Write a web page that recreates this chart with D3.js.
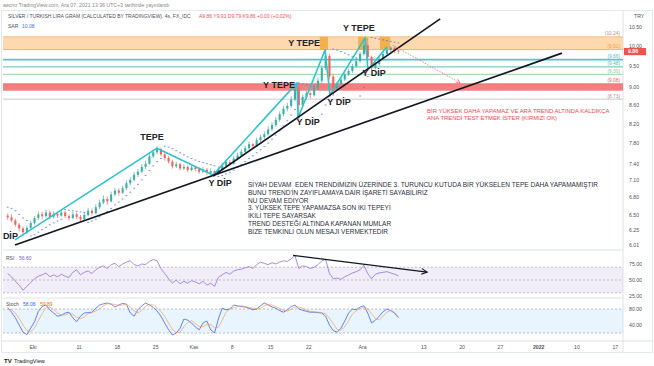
<!DOCTYPE html>
<html><head><meta charset="utf-8">
<script src="https://cdn.jsdelivr.net/npm/d3@7"></script>
<style>
body{margin:0;background:#fff}
svg{display:block;font-family:"Liberation Sans",Arial,sans-serif}
</style>
</head><body>
<svg id="chart" width="654" height="366"></svg>
<script>
// ---------- DATA (12h candles, day index 0 = 1 Oct 2021, trading days only) ----------
const firstBarDay = -3.5, barStep = 0.5;
const opens = [6.48,6.45,6.40,6.33,6.27,6.21,6.28,6.36,6.44,6.50,
 6.47,6.53,6.46,6.51,6.48,6.53,6.47,6.44,6.50,6.46,
 6.42,6.49,6.56,6.52,6.62,6.70,6.76,6.72,6.84,6.91,
 6.87,6.95,7.04,7.10,7.19,7.25,7.34,7.40,7.54,7.62,
 7.68,7.58,7.51,7.44,7.35,7.39,7.31,7.34,7.28,7.33,
 7.30,7.25,7.29,7.23,7.26,7.21,7.30,7.36,7.43,7.40,
 7.50,7.56,7.63,7.70,7.78,7.74,7.86,7.92,7.98,8.08,
 8.17,8.28,8.40,8.52,8.58,8.72,8.95,8.60,8.78,8.86,
 8.82,8.98,9.15,9.45,9.75,9.25,8.98,9.08,9.18,9.30,
 9.38,9.50,9.62,9.80,10.02,9.72,9.45,9.55,9.68,9.80,
 9.90,9.96,9.88];
const highs = [6.52,6.50,6.43,6.36,6.30,6.32,6.40,6.47,6.55,6.54,
 6.58,6.56,6.55,6.54,6.58,6.56,6.50,6.54,6.53,6.49,
 6.53,6.61,6.60,6.67,6.75,6.82,6.80,6.89,6.96,6.95,
 7.00,7.09,7.15,7.24,7.30,7.39,7.46,7.60,7.68,7.74,
 7.71,7.62,7.55,7.48,7.44,7.42,7.39,7.37,7.38,7.36,
 7.33,7.34,7.32,7.31,7.28,7.35,7.41,7.48,7.47,7.55,
 7.61,7.68,7.75,7.83,7.81,7.91,7.97,8.04,8.14,8.23,
 8.34,8.46,8.58,8.65,8.80,9.02,9.10,8.84,8.92,8.90,
 9.04,9.22,9.52,9.92,9.80,9.30,9.14,9.24,9.36,9.44,
 9.56,9.68,9.86,10.10,10.22,9.76,9.60,9.73,9.85,9.95,
 10.00,9.99,9.91];
const lows = [6.41,6.37,6.30,6.22,6.15,6.18,6.25,6.33,6.41,6.42,
 6.45,6.42,6.43,6.44,6.46,6.44,6.40,6.42,6.42,6.37,
 6.40,6.47,6.48,6.50,6.59,6.67,6.66,6.70,6.81,6.82,
 6.85,6.92,7.00,7.07,7.15,7.22,7.30,7.38,7.50,7.58,
 7.54,7.46,7.40,7.31,7.32,7.27,7.28,7.24,7.26,7.26,
 7.21,7.22,7.19,7.20,7.16,7.19,7.27,7.33,7.36,7.38,
 7.47,7.53,7.60,7.67,7.69,7.72,7.82,7.88,7.95,8.04,
 8.13,8.24,8.36,8.46,8.54,8.68,8.28,8.55,8.72,8.74,
 8.79,8.94,9.10,9.40,9.18,8.80,8.92,9.03,9.14,9.26,
 9.34,9.46,9.58,9.76,9.65,9.40,9.42,9.51,9.64,9.76,
 9.85,9.82,9.79];
const closes = [6.45,6.40,6.33,6.27,6.21,6.28,6.36,6.44,6.50,6.47,
 6.53,6.46,6.51,6.48,6.53,6.47,6.44,6.50,6.46,6.42,
 6.49,6.56,6.52,6.62,6.70,6.76,6.72,6.84,6.91,6.87,
 6.95,7.04,7.10,7.19,7.25,7.34,7.40,7.54,7.62,7.68,
 7.58,7.51,7.44,7.35,7.39,7.31,7.34,7.28,7.33,7.30,
 7.25,7.29,7.23,7.26,7.21,7.30,7.36,7.43,7.40,7.50,
 7.56,7.63,7.70,7.78,7.74,7.86,7.92,7.98,8.08,8.17,
 8.28,8.40,8.52,8.58,8.72,8.95,8.60,8.78,8.86,8.82,
 8.98,9.15,9.45,9.75,9.25,8.98,9.08,9.18,9.30,9.38,
 9.50,9.62,9.80,10.02,9.72,9.45,9.55,9.68,9.80,9.90,
 9.96,9.88,9.86];
const sar = [6.62,6.60,6.56,6.50,6.44,6.40,6.15,6.17,6.21,6.25,
 6.29,6.33,6.36,6.39,6.42,6.58,6.57,6.56,6.55,6.54,
 6.53,6.37,6.39,6.42,6.46,6.51,6.55,6.60,6.66,6.71,
 6.76,6.82,6.88,6.95,7.02,7.10,7.18,7.27,7.36,7.44,
 7.50,7.74,7.72,7.69,7.65,7.61,7.57,7.53,7.50,7.47,
 7.44,7.42,7.40,7.38,7.36,7.16,7.18,7.21,7.24,7.28,
 7.33,7.38,7.44,7.50,7.55,7.61,7.67,7.73,7.80,7.88,
 7.96,8.05,8.15,8.26,8.38,8.50,9.10,9.08,9.06,9.04,
 9.02,8.28,8.40,8.60,8.80,9.92,9.90,9.86,9.82,9.78,
 9.74,9.70,8.80,9.00,9.25,10.22,10.20,10.18,10.16,10.14,
 10.12,10.10,10.08];
const rsi = [60,55,48,42,34,40,46,52,56,58,
 61,55,58,55,59,56,54,62,66,58,
 62,64,60,66,70,72,68,74,76,71,
 75,78,80,74,72,75,74,79,82,80,
 68,60,52,45,50,44,48,45,49,47,
 44,48,42,45,40,54,58,62,59,64,
 66,67,69,71,68,74,78,76,74,77,
 75,78,80,79,83,88,68,72,71,68,
 70,74,80,82,60,52,53,51,55,58,
 61,63,66,73,60,52,59,61,62,63,
 61,59,56.6];
const stochK = [84,72,58,40,22,16,32,48,74,86,
 90,78,70,62,64,70,72,58,48,62,
 70,71,72,82,90,93,95,92,85,90,
 94,92,70,62,78,88,95,90,84,75,
 62,45,28,15,20,32,55,52,45,35,
 28,45,50,28,20,55,82,78,80,90,
 88,86,85,82,78,80,88,95,90,85,
 82,76,72,78,86,90,80,77,74,72,
 72,71,70,62,40,26,22,32,50,70,
 80,78,85,88,70,45,52,62,73,80,
 76,70,58.06];
const stochD = [80,78,70,56,40,26,23,32,51,69,
 83,85,79,70,65,65,69,67,59,56,
 60,68,71,75,81,88,93,93,91,89,
 90,92,85,75,70,76,87,91,90,83,
 74,61,45,29,21,22,36,46,51,44,
 36,36,41,41,33,34,52,72,80,83,
 86,88,86,84,82,80,82,88,91,90,
 86,81,77,75,79,85,85,82,77,74,
 73,72,71,68,57,43,29,27,35,51,
 67,76,81,84,81,68,56,53,62,72,
 76,72,59.89];

const priceTicks = [10.5,10,9.5,9,8.6,8.2,7.8,7.4,7.1,6.8,6.5,6.25,6.01];
const xTickDays  = [0,6,11,16,21,26,31,36,43,51,56,61,66,71,76];
const xTickLabels= ["Eki","11","18","25","Kas","8","15","22","Ara","13","20","27","2022","10","17"];
const levelValues = [10.24,9.91,9.66,9.48,9.30,9.08,8.73];
const levelLabels = ["(10.24)","(9.91)","(9.66)","(9.48)","(9.30)","(9.08)","(8.73)"];
const orangeBand = [10.24,9.91];
const redBand = [9.08,8.92];
const orangeBoxes = [[37.5,38.55],[42.5,43.65],[45.35,46.66]];
const tealZigzag = [[-2.3,6.09],[16.24,7.70],[23.55,7.19],[34.52,9.10],[34.65,8.32],[38.17,9.90],[38.82,8.82],[43.4,10.21],[43.78,9.41],[46.26,9.98]];
const mainTrend = [[-2.3,6.01],[69.1,9.82]];
const steepTrend = [[23.55,7.17],[53.2,10.72]];
const redArrow = [[47.05,10.02],[55.8,9.10]];
const rsiTrend = [[34.0,88.5],[51.5,62.3]];
const pointLabels = [
 ["DİP",-2.9,6.10],["TEPE",15.59,7.86],["Y DİP",24.49,6.99],["Y TEPE",32.17,8.98],
 ["Y DİP",35.96,8.17],["Y TEPE",35.44,10.0],["Y DİP",40.0,8.60],["Y TEPE",42.6,10.39],["Y DİP",44.57,9.26]];
const noteLines = [
 "SİYAH DEVAM  EDEN TRENDİMİZİN ÜZERİNDE 3. TURUNCU KUTUDA BİR YÜKSELEN TEPE DAHA YAPAMAMIŞTIR",
 "BUNU TREND'İN ZAYIFLAMAYA DAİR İŞARETİ SAYABİLİRİZ",
 "NU DEVAM EDİYOR",
 "3. YÜKSEK TEPE YAPAMAZSA SON İKİ TEPEYİ",
 "İKİLİ TEPE SAYARSAK",
 "TREND DESTEĞİ ALTINDA KAPANAN MUMLAR",
 "BİZE TEMKİNLİ OLUN MESAJI VERMEKTEDİR"];
const noteAnchor = [28.12,6.97];
const redNoteLines = ["BİR YÜKSEK DAHA YAPAMAZ VE ARA TREND ALTINDA KALDIKÇA","ANA TRENDİ TEST ETMEK İSTER (KIRMIZI OK)"];
const redNoteAnchor = [51.5,8.436];
const lastPrice = 9.86;

// ---------- SCALES ----------
const svg = d3.select("#chart");
const x = d3.scaleLinear().domain([0,76]).range([32.6,614.8]);
const y = d3.scaleLog().domain([6.01,10.5]).range([245,27]);
const yR = d3.scaleLinear().domain([25,75]).range([296,264]);
const yS = d3.scaleLinear().domain([20,80]).range([333,309]);
const bars = closes.map((c,i)=>({d:firstBarDay+barStep*i+barStep/2,o:opens[i],h:highs[i],l:lows[i],c:c,s:sar[i],r:rsi[i],k:stochK[i],dd:stochD[i]}));
const L=3, R=623;

const defs = svg.append("defs");
function clip(id,x0,y0,w,h){defs.append("clipPath").attr("id",id).append("rect").attr("x",x0).attr("y",y0).attr("width",w).attr("height",h);}
clip("cp",L,11,R-L,239); clip("cr",L,250,R-L,48); clip("cs",L,298,R-L,43);
function marker(id,color,size){
  defs.append("marker").attr("id",id).attr("viewBox","0 0 10 10").attr("refX",9).attr("refY",5)
   .attr("markerWidth",size).attr("markerHeight",size).attr("markerUnits","userSpaceOnUse").attr("orient","auto")
   .append("path").attr("d","M1,1 L9,5 L1,9").attr("fill","none").attr("stroke",color).attr("stroke-width",1.6);
}
marker("arrBlack","#131722",7); marker("arrRed","#ef6f7f",5);

// ---------- FRAME ----------
svg.append("text").attr("x",3).attr("y",7).attr("font-size",5.2).attr("fill","#8a8a8a")
  .text("aecmr TradingView.com, Ara 07, 2021 13:36 UTC+3 tarihinde yayınlandı");
svg.append("rect").attr("x",1.5).attr("y",10.5).attr("width",651).attr("height",342).attr("fill","none").attr("stroke","#e0e3eb").attr("stroke-width",0.8);
[[L,250,R,250],[L,298,R,298],[1.5,341,652.5,341],[R,10.5,R,352.5]].forEach(s=>
  svg.append("line").attr("x1",s[0]).attr("y1",s[1]).attr("x2",s[2]).attr("y2",s[3]).attr("stroke","#d8dbe2").attr("stroke-width",0.8));

// ---------- PRICE PANE ----------
const pg = svg.append("g").attr("clip-path","url(#cp)");
pg.append("rect").attr("x",L).attr("width",R-L).attr("y",y(orangeBand[0])).attr("height",y(orangeBand[1])-y(orangeBand[0])).attr("fill","#fdd9ad");
pg.append("rect").attr("x",L).attr("width",R-L).attr("y",y(redBand[0])).attr("height",y(redBand[1])-y(redBand[0])).attr("fill","#f28080");
const levelColors = ["#f3b36b","#f3a64f","#56c5c8","#7fcbbf","#a9dcae","#ef6b6b","#c9c9c9"];
const levelWidths = [0.8,0.8,1.6,1.2,1.1,0.8,1];
levelValues.forEach((v,i)=>{
  pg.append("line").attr("x1",L).attr("x2",R).attr("y1",y(v)).attr("y2",y(v)).attr("stroke",levelColors[i]).attr("stroke-width",levelWidths[i]);
});
orangeBoxes.forEach(b=>{
  pg.append("rect").attr("x",x(b[0])).attr("width",x(b[1])-x(b[0])).attr("y",y(orangeBand[0])).attr("height",y(orangeBand[1])-y(orangeBand[0])).attr("fill","#f6a843").attr("opacity",0.9);
});
const labelColors = ["#b0936e","#f0a04a","#3fbfc2","#55b89f","#86c98c","#ef5a5a","#9a9a9a"];
levelValues.forEach((v,i)=>{
  pg.append("text").attr("x",620).attr("y",y(v)-1.6).attr("text-anchor","end").attr("font-size",4.8).attr("fill",labelColors[i]).text(levelLabels[i]);
});

// candles
const bw = (x(barStep)-x(0))*0.55;
const cg = pg.append("g");
bars.forEach(b=>{
  const col = b.c>=b.o ? "#3bb0a4" : "#f06360";
  const cx = x(b.d);
  cg.append("line").attr("x1",cx).attr("x2",cx).attr("y1",y(b.h)).attr("y2",y(b.l)).attr("stroke",col).attr("stroke-width",0.7);
  const top = y(Math.max(b.o,b.c)), bot = y(Math.min(b.o,b.c));
  cg.append("rect").attr("x",cx-bw/2).attr("width",bw).attr("y",top).attr("height",Math.max(0.8,bot-top)).attr("fill",col);
});
// SAR
bars.forEach(b=>{
  pg.append("line").attr("x1",x(b.d)-0.9).attr("x2",x(b.d)+0.9).attr("y1",y(b.s)).attr("y2",y(b.s)).attr("stroke","#4a74f0").attr("stroke-width",0.8);
});

const pline = d3.line().x(d=>x(d[0])).y(d=>y(d[1]));
pg.append("path").attr("d",pline(tealZigzag)).attr("fill","none").attr("stroke","#2fc3cb").attr("stroke-width",1.6).attr("stroke-linejoin","round");
pg.append("path").attr("d",pline(mainTrend)).attr("fill","none").attr("stroke","#131722").attr("stroke-width",1.7);
pg.append("path").attr("d",pline(steepTrend)).attr("fill","none").attr("stroke","#131722").attr("stroke-width",1.7);
pg.append("path").attr("d",pline(redArrow)).attr("fill","none").attr("stroke","#ef6f7f").attr("stroke-width",0.9).attr("stroke-dasharray","1.4 1.4").attr("marker-end","url(#arrRed)");

pointLabels.forEach(p=>{
  pg.append("text").attr("x",x(p[1])).attr("y",y(p[2])).attr("text-anchor","middle").attr("font-size",9).attr("font-weight","bold")
    .attr("fill","#1e222d").text(p[0]);
});
noteLines.forEach((t,i)=>{
  pg.append("text").attr("x",x(noteAnchor[0])).attr("y",y(noteAnchor[1])+i*7.8).attr("font-size",6.5).attr("fill","#2a2e39").attr("xml:space","preserve").text(t);
});
redNoteLines.forEach((t,i)=>{
  pg.append("text").attr("x",x(redNoteAnchor[0])).attr("y",y(redNoteAnchor[1])+i*7).attr("font-size",5.9).attr("fill","#f0494f").text(t);
});

// legend
svg.append("text").attr("x",8).attr("y",18).attr("font-size",5).attr("fill","#4a4f5c")
  .text("SILVER / TURKISH LIRA GRAM (CALCULATED BY TRADINGVIEW), 4s, FX_IDC");
svg.append("text").attr("x",199).attr("y",18).attr("font-size",5).attr("fill","#ef5350")
  .text("A9.86  Y9.91  D9.79  K9.86  +0.00 (+0.02%)");
svg.append("text").attr("x",8).attr("y",28).attr("font-size",5).attr("fill","#4a4f5c").text("SAR");
svg.append("text").attr("x",22).attr("y",28).attr("font-size",5).attr("fill","#3d6bf2").text("10.08");

// price axis
const ax = svg.append("g").attr("transform",`translate(${R+4},0)`)
  .call(d3.axisRight(y).tickValues(priceTicks).tickFormat(d3.format(".2f")).tickSize(0).tickPadding(2));
ax.select(".domain").remove();
ax.selectAll("text").attr("font-size",5.2).attr("fill","#50535e").attr("font-family","Liberation Sans, Arial, sans-serif");
svg.append("text").attr("x",634).attr("y",18).attr("font-size",5.2).attr("fill","#50535e").text("TRY");
svg.append("rect").attr("x",R+1).attr("y",y(lastPrice)-3.6).attr("width",22).attr("height",7.2).attr("fill","#ef5350");
svg.append("text").attr("x",R+5).attr("y",y(lastPrice)+1.9).attr("font-size",5.2).attr("font-weight","bold").attr("fill","#fff").text(lastPrice.toFixed(2));

// ---------- RSI PANE ----------
const rg = svg.append("g").attr("clip-path","url(#cr)");
rg.append("rect").attr("x",L).attr("width",R-L).attr("y",yR(70)).attr("height",yR(30)-yR(70)).attr("fill","#7e57c2").attr("opacity",0.1);
[70,50,30].forEach(v=>rg.append("line").attr("x1",L).attr("x2",R).attr("y1",yR(v)).attr("y2",yR(v)).attr("stroke","#9598a1").attr("stroke-width",0.6).attr("stroke-dasharray","2 2"));
rg.append("path").attr("d",d3.line().x(b=>x(b.d)).y(b=>yR(b.r))(bars)).attr("fill","none").attr("stroke","#9a80d6").attr("stroke-width",0.9);
rg.append("path").attr("d",d3.line().x(d=>x(d[0])).y(d=>yR(d[1]))(rsiTrend)).attr("fill","none").attr("stroke","#131722").attr("stroke-width",1.1).attr("marker-end","url(#arrBlack)");
svg.append("text").attr("x",6).attr("y",260).attr("font-size",5).attr("fill","#4a4f5c").text("RSI");
svg.append("text").attr("x",19).attr("y",260).attr("font-size",5).attr("fill","#7e57c2").text("56.60");
const ar = svg.append("g").attr("transform",`translate(${R+4},0)`)
  .call(d3.axisRight(yR).tickValues([75,50,25]).tickFormat(d3.format(".2f")).tickSize(0).tickPadding(2));
ar.select(".domain").remove();
ar.selectAll("text").attr("font-size",5.2).attr("fill","#50535e").attr("font-family","Liberation Sans, Arial, sans-serif");

// ---------- STOCH PANE ----------
const sg = svg.append("g").attr("clip-path","url(#cs)");
sg.append("rect").attr("x",L).attr("width",R-L).attr("y",yS(80)).attr("height",yS(20)-yS(80)).attr("fill","#2196f3").attr("opacity",0.1);
[80,20].forEach(v=>sg.append("line").attr("x1",L).attr("x2",R).attr("y1",yS(v)).attr("y2",yS(v)).attr("stroke","#9598a1").attr("stroke-width",0.6).attr("stroke-dasharray","2 2"));
sg.append("path").attr("d",d3.line().x(b=>x(b.d)).y(b=>yS(b.k))(bars)).attr("fill","none").attr("stroke","#4a6ff0").attr("stroke-width",0.85);
sg.append("path").attr("d",d3.line().x(b=>x(b.d)).y(b=>yS(b.dd))(bars)).attr("fill","none").attr("stroke","#f29a5c").attr("stroke-width",0.85).attr("opacity",0.8);
svg.append("text").attr("x",6).attr("y",306).attr("font-size",5).attr("fill","#4a4f5c").text("Stoch");
svg.append("text").attr("x",23).attr("y",306).attr("font-size",5).attr("fill","#2962ff").text("58.06");
svg.append("text").attr("x",40).attr("y",306).attr("font-size",5).attr("fill","#ff6d00").text("59.89");
const as = svg.append("g").attr("transform",`translate(${R+4},0)`)
  .call(d3.axisRight(yS).tickValues([80,40]).tickFormat(d3.format(".2f")).tickSize(0).tickPadding(2));
as.select(".domain").remove();
as.selectAll("text").attr("font-size",5.2).attr("fill","#50535e").attr("font-family","Liberation Sans, Arial, sans-serif");

// ---------- TIME AXIS ----------
const axx = svg.append("g").attr("transform","translate(0,343)")
  .call(d3.axisBottom(x).tickValues(xTickDays).tickFormat((d,i)=>xTickLabels[i]).tickSize(0).tickPadding(2));
axx.select(".domain").remove();
axx.selectAll("text").attr("font-size",5.2).attr("fill","#50535e").attr("font-family","Liberation Sans, Arial, sans-serif")
  .attr("font-weight",(d,i)=>xTickLabels[i]==="2022"?"bold":"normal");

// logo
svg.append("text").attr("x",4).attr("y",363).attr("font-size",6).attr("font-weight","bold").attr("fill","#131722").text("TV");
svg.append("text").attr("x",14).attr("y",363).attr("font-size",5.6).attr("fill","#131722").text("TradingView");
</script>
</body></html>
